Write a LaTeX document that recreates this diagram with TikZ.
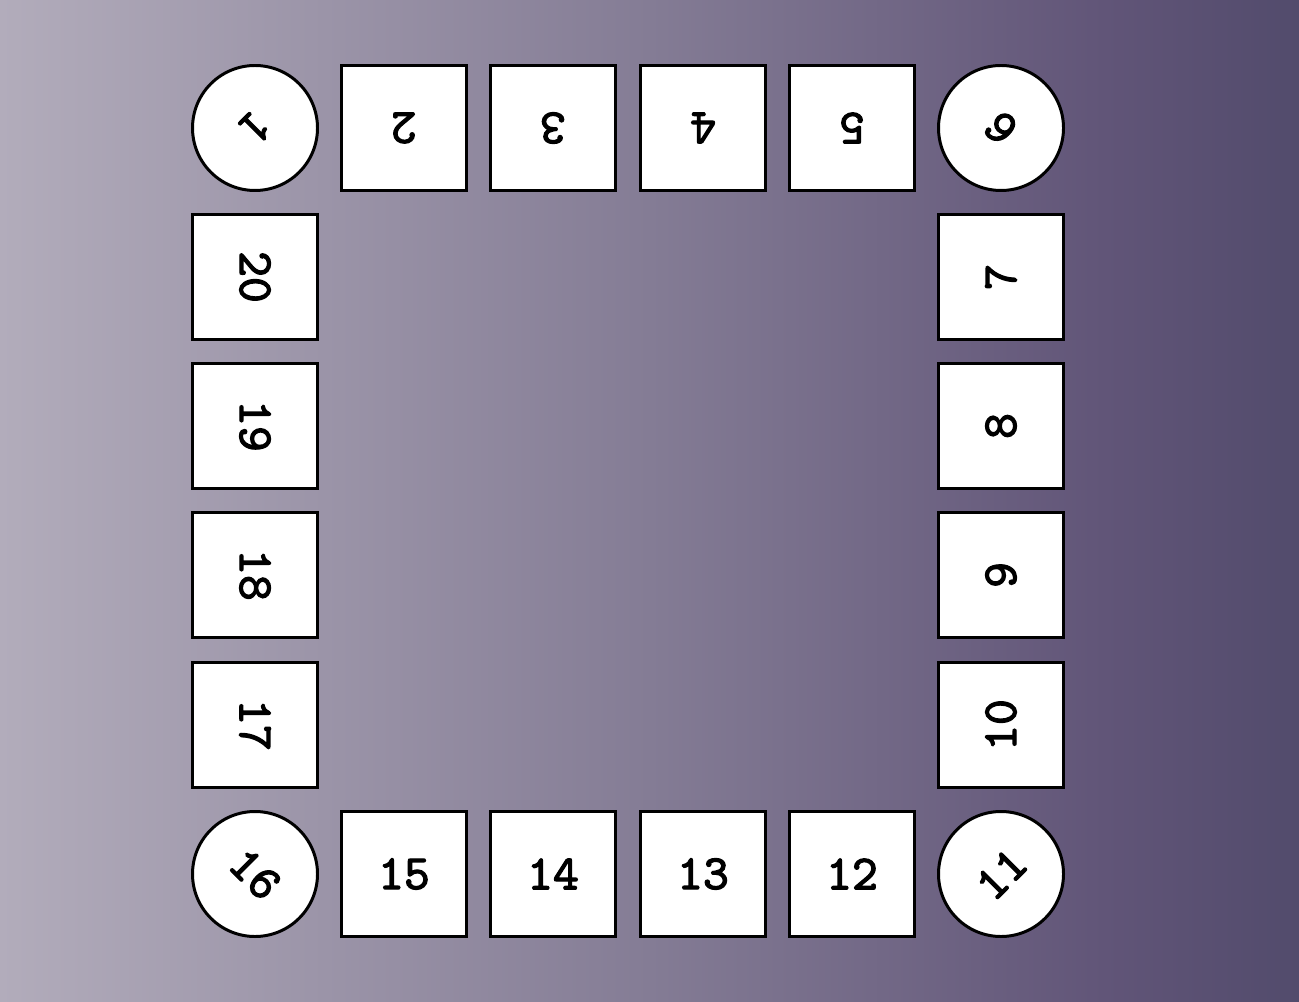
\documentclass[tikz,border=0pt]{standalone}
\usepackage{fontspec}
\usepackage{tikz}
\newfontfamily\tilefont[FakeBold=2.5]{lmmono10-regular.otf}
\definecolor{bgleft}{RGB}{178,172,187}
\definecolor{bgmid}{RGB}{132,124,149}
\definecolor{bgpurple}{RGB}{97,85,120}
\definecolor{bgright}{RGB}{82,75,108}
\pgfdeclarehorizontalshading{boardshade}{100bp}{color(0bp)=(bgleft); color(25bp)=(bgleft); color(50bp)=(bgmid); color(67.5bp)=(bgpurple); color(75bp)=(bgright); color(100bp)=(bgright)}
\tikzset{
    tile/.style={draw=black, fill=white, line width=0.85pt, minimum size=1.25cm, inner sep=0pt, font=\tilefont\fontsize{14}{14}\selectfont},
    corner/.style={tile, circle}
}

\begin{document}
\begin{tikzpicture}
        % Background
        \shade[shading=boardshade] (0,0) rectangle (12.99,10.01);
        \useasboundingbox (0,0) rectangle (12.99,10.01);
        
        % Corner tiles
        \node[corner, rotate=-135] (c1) at (2.55,8.73) {1};
        \node[corner, rotate=135] (c6) at (10.01,8.73) {6};
        \node[corner, rotate=45] (c11) at (10.01,1.27) {11};
        \node[corner, rotate=-45] (c16) at (2.55,1.27) {16};
        
        % Top row
        \node[tile, rotate=180] (t2) at (4.04,8.73) {2};
        \node[tile, rotate=180] (t3) at (5.53,8.73) {3};
        \node[tile, rotate=180] (t4) at (7.03,8.73) {4};
        \node[tile, rotate=180] (t5) at (8.52,8.73) {5};
        
        % Right column
        \node[tile, rotate=90] (t7) at (10.01,7.24) {7};
        \node[tile, rotate=90] (t8) at (10.01,5.75) {8};
        \node[tile, rotate=90] (t9) at (10.01,4.26) {9};
        \node[tile, rotate=90] (t10) at (10.01,2.76) {10};
        
        % Bottom row
        \node[tile] (t12) at (8.52,1.27) {12};
        \node[tile] (t13) at (7.03,1.27) {13};
        \node[tile] (t14) at (5.53,1.27) {14};
        \node[tile] (t15) at (4.04,1.27) {15};
        
        % Left column
        \node[tile, rotate=-90] (t17) at (2.55,2.76) {17};
        \node[tile, rotate=-90] (t18) at (2.55,4.26) {18};
        \node[tile, rotate=-90] (t19) at (2.55,5.75) {19};
        \node[tile, rotate=-90] (t20) at (2.55,7.24) {20};
    \end{tikzpicture}
\end{document}
